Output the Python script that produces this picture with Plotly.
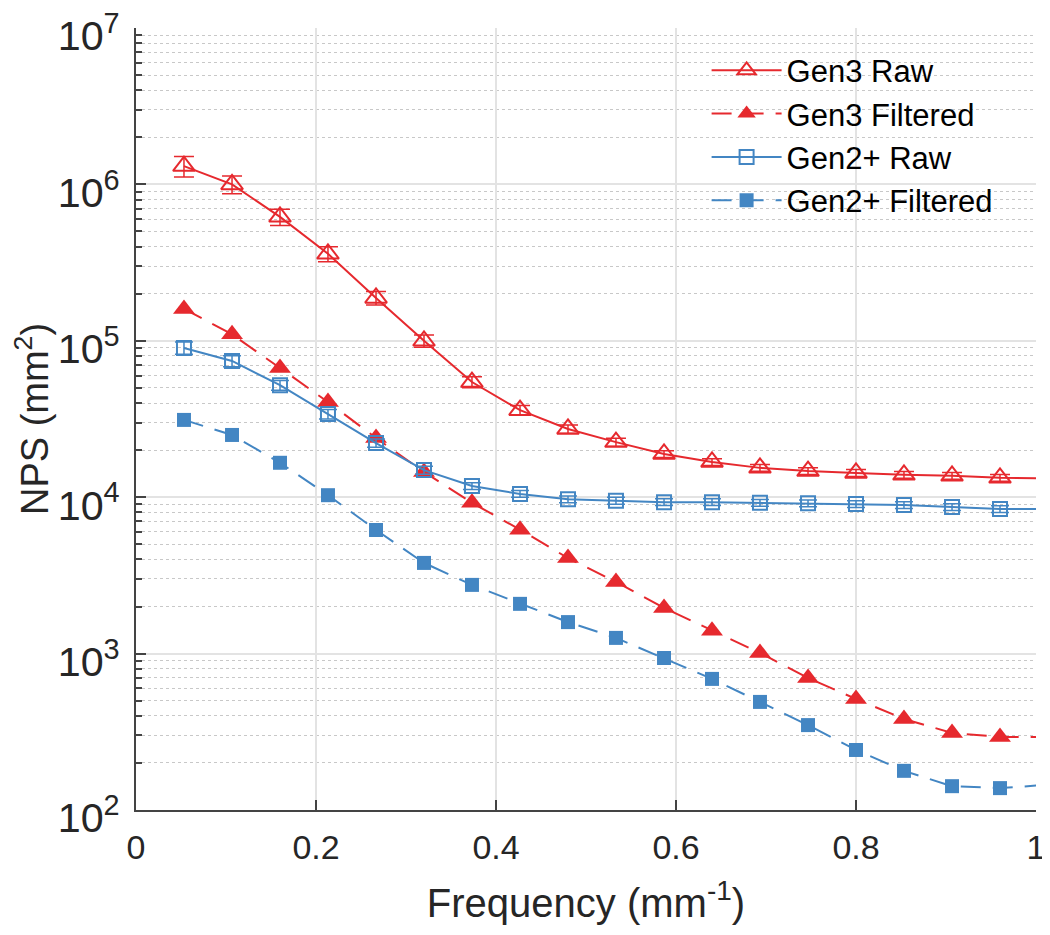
import plotly.graph_objects as go

# spatial frequency (mm^-1); last point lies just past the axis end
freq = [0.0533, 0.1067, 0.16, 0.2133, 0.2667, 0.32, 0.3733, 0.4267, 0.48,
        0.5333, 0.5867, 0.64, 0.6933, 0.7467, 0.80, 0.8533, 0.9067, 0.96, 1.0133]

gen3_raw = [1.31e6, 1.0e6, 6.2e5, 3.6e5, 1.88e5, 1.0e5, 5.45e4, 3.6e4, 2.73e4,
            2.25e4, 1.89e4, 1.68e4, 1.54e4, 1.47e4, 1.43e4, 1.39e4, 1.37e4, 1.33e4, 1.32e4]
gen3_raw_err = [0.15, 0.13, 0.12, 0.11, 0.1, 0.09, 0.08, 0.07, 0.06,
                0.06, 0.05, 0.05, 0.05, 0.05, 0.05, 0.05, 0.05, 0.05, 0.05]

gen3_filt = [1.6e5, 1.1e5, 6.7e4, 4.06e4, 2.39e4, 1.45e4, 9.2e3, 6.2e3, 4.08e3,
             2.87e3, 1.96e3, 1.40e3, 1.01e3, 698, 513, 382, 311, 293, 293]

gen2_raw = [9.0e4, 7.43e4, 5.2e4, 3.4e4, 2.22e4, 1.49e4, 1.18e4, 1.05e4, 9.7e3,
            9.5e3, 9.3e3, 9.3e3, 9.2e3, 9.15e3, 9.05e3, 8.9e3, 8.65e3, 8.4e3, 8.4e3]
gen2_raw_err = [0.09, 0.08, 0.07, 0.07, 0.06, 0.06, 0.05, 0.05, 0.05,
                0.05, 0.05, 0.05, 0.05, 0.05, 0.05, 0.05, 0.05, 0.05, 0.05]

gen2_filt = [3.12e4, 2.5e4, 1.66e4, 1.03e4, 6.17e3, 3.8e3, 2.75e3, 2.08e3, 1.59e3,
             1.26e3, 937, 689, 491, 349, 242, 178, 142, 138, 145]

red = "#E6292E"
blue = "#4386C3"
dash = "20px,12px"

fig = go.Figure()

fig.add_trace(go.Scatter(
    x=freq, y=gen3_raw, name="Gen3 Raw", mode="lines+markers",
    line=dict(color=red, width=2),
    marker=dict(symbol="triangle-up-open", size=19, color=red, line=dict(width=2)),
    error_y=dict(type="data", array=[v * e for v, e in zip(gen3_raw, gen3_raw_err)],
                 color=red, thickness=1.5, width=10),
))
fig.add_trace(go.Scatter(
    x=freq, y=gen3_filt, name="Gen3 Filtered", mode="lines+markers",
    line=dict(color=red, width=2, dash=dash),
    marker=dict(symbol="triangle-up", size=19, color=red),
))
fig.add_trace(go.Scatter(
    x=freq, y=gen2_raw, name="Gen2+ Raw", mode="lines+markers",
    line=dict(color=blue, width=2),
    marker=dict(symbol="square-open", size=14, color=blue, line=dict(width=2)),
    error_y=dict(type="data", array=[v * e for v, e in zip(gen2_raw, gen2_raw_err)],
                 color=blue, thickness=1.5, width=9),
))
fig.add_trace(go.Scatter(
    x=freq, y=gen2_filt, name="Gen2+ Filtered", mode="lines+markers",
    line=dict(color=blue, width=2, dash=dash),
    marker=dict(symbol="square", size=14, color=blue),
))

font = "Liberation Sans, Arial, sans-serif"
txt = "#262626"

# page body has an 8px margin, so the figure is a bit smaller than the window
fig.update_layout(
    width=1042, height=927,
    margin=dict(l=128, r=14, t=20, b=125),
    plot_bgcolor="white", paper_bgcolor="white",
    font=dict(family=font, color=txt),
    showlegend=True,
    legend=dict(x=0.634, y=0.98, xanchor="left", yanchor="top",
                font=dict(size=31, color="black"), bgcolor="rgba(255,255,255,0)",
                itemwidth=70, tracegroupgap=0),
)

fig.update_xaxes(
    range=[0, 1], tickvals=[0, 0.2, 0.4, 0.6, 0.8, 1], ticktext=["0", "0.2", "0.4", "0.6", "0.8", "1"],
    showgrid=True, gridcolor="#E3E3E3", gridwidth=1.5,
    showline=True, linecolor="#444444", linewidth=1.5,
    ticks="inside", ticklen=10, tickcolor="#444444", tickwidth=1.5,
    tickfont=dict(size=34, color=txt), ticklabelstandoff=6, ticklabeloverflow="allow",
    title=dict(text="Frequency (mm<sup>-1</sup>)", font=dict(size=40, color=txt), standoff=24),
    zeroline=False, automargin=False,
)
fig.update_yaxes(
    type="log", range=[2, 7], dtick=1, exponentformat="power", showexponent="all",
    showgrid=True, gridcolor="#E3E3E3", gridwidth=1.5,
    showline=True, linecolor="#444444", linewidth=1.5,
    ticks="inside", ticklen=10, tickcolor="#444444", tickwidth=1.5,
    tickfont=dict(size=33, color=txt), ticklabelstandoff=8, ticklabelshift=8,
    ticklabeloverflow="allow",
    minor=dict(ticks="inside", ticklen=6, tickcolor="#444444", showgrid=True,
               gridcolor="#C8C8C8", griddash="dot", gridwidth=1),
    title=dict(text="NPS (mm<sup>2</sup>)", font=dict(size=38, color=txt), standoff=14),
    zeroline=False, automargin=False,
)

fig.write_html("out.html")
